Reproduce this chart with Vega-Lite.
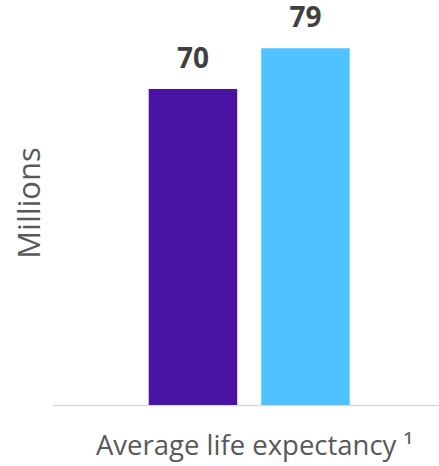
{
  "$schema": "https://vega.github.io/schema/vega-lite/v6.json",
  "width": 387,
  "height": 405,
  "autosize": "none",
  "padding": {"left": 52, "top": 0, "right": 0, "bottom": 61},
  "background": "white",
  "config": {
    "view": {"stroke": null},
    "font": "Open Sans"
  },
  "data": {
    "values": [
      {"group": "A", "value": 70, "color": "#4B13A3"},
      {"group": "B", "value": 79, "color": "#4FC3FF"}
    ]
  },
  "encoding": {
    "x": {
      "field": "group",
      "type": "nominal",
      "sort": null,
      "scale": {"paddingInner": 0.2133, "paddingOuter": 0.8267, "align": 0.52},
      "axis": {
        "title": "Average life expectancy ¹",
        "titleFont": "Open Sans",
        "titleFontSize": 27.5,
        "titleFontWeight": "normal",
        "titleColor": "#595959",
        "titlePadding": 27,
        "titleX": 202,
        "titleAlign": "center",
        "labels": false,
        "ticks": false,
        "domainColor": "#D9D9D9",
        "domainWidth": 1.5
      }
    },
    "y": {
      "field": "value",
      "type": "quantitative",
      "scale": {"domain": [0, 89.7], "nice": false},
      "axis": {
        "title": "Millions",
        "titleFont": "Open Sans",
        "titleFontSize": 31,
        "titleFontWeight": "normal",
        "titleColor": "#595959",
        "titlePadding": 6,
        "labels": false,
        "ticks": false,
        "domain": false,
        "grid": false
      }
    }
  },
  "layer": [
    {
      "mark": {"type": "bar"},
      "encoding": {
        "color": {"field": "color", "type": "nominal", "scale": null}
      }
    },
    {
      "mark": {
        "type": "text",
        "dy": -21,
        "baseline": "alphabetic",
        "font": "Open Sans",
        "fontSize": 28,
        "fontWeight": "bold",
        "color": "#404040"
      },
      "encoding": {
        "text": {"field": "value", "type": "quantitative"}
      }
    }
  ]
}
